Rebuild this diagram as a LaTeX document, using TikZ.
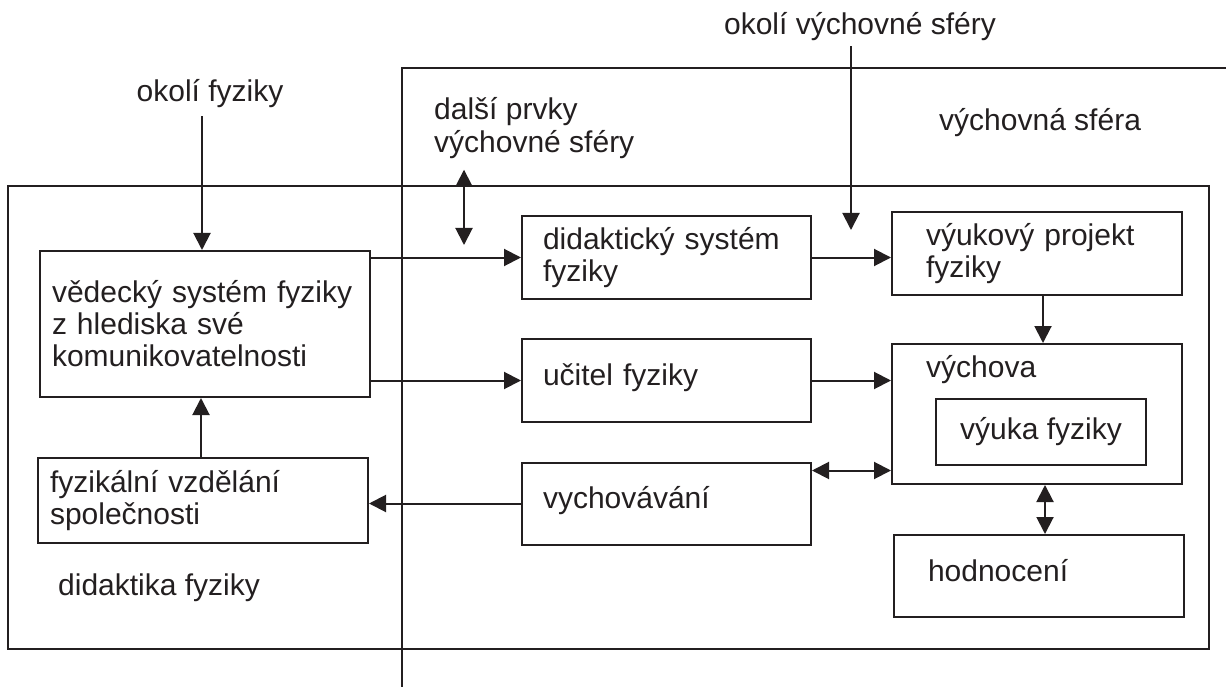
\documentclass[tikz,border=0pt]{standalone}
\usepackage{fontspec}
\setmainfont{Liberation Sans}
\usepackage{xcolor}
\usepackage{tikz}
\usetikzlibrary{arrows.meta, positioning}
\definecolor{ink}{HTML}{231F20}
\tikzstyle{box} = [rectangle, draw=ink, line width=2pt, align=left, text=ink, font=\fontsize{30}{32}\selectfont]
\tikzstyle{leftbox} = [box, text width=306pt, inner xsep=12pt]
\tikzstyle{midbox} = [box, text width=247pt, inner xsep=21pt, minimum height=83pt]
\tikzstyle{rightbox} = [box, text width=222pt, inner xsep=34pt, minimum height=83pt]
\tikzstyle{oneline} = [text height=22pt, text depth=12pt]
\tikzstyle{frame} = [rectangle, draw=ink, line width=2pt, inner sep=0pt]
\tikzstyle{caption} = [inner sep=0pt, text=ink, align=left, font=\fontsize{30}{33}\selectfont]
\tikzstyle{arrow} = [draw=ink, line width=2pt, -{Triangle[length=17pt, width=17pt]}]
\tikzstyle{dblarrow} = [draw=ink, line width=2pt, {Triangle[length=17pt, width=17pt]}-{Triangle[length=17pt, width=17pt]}]

\begin{document}
\begin{tikzpicture}[x=1pt, y=-1pt, node distance=123pt]
\useasboundingbox (0,0) rectangle (1226,687);
% the two spheres
\node (didaktika) [frame, minimum width=1201pt, minimum height=463pt] at (608.5,417.5) {};
\draw [draw=ink, line width=2pt] (402,687) |- (1226,68);
\node (didaktikatxt) [caption, anchor=base west] at (58,595) {didaktika fyziky};
\node (sferatxt) [caption, anchor=base west] at (939,131) {výchovná sféra};
\node (okolifyz) [caption, anchor=base] at (210,102) {okolí fyziky};
\node (okolivs) [caption, anchor=base] at (860,35) {okolí výchovné sféry};
\node (dalsi) [caption, anchor=north west] at (434,97) {další prvky\\výchovné sféry};

\node (vedecky) [leftbox, minimum height=146pt] at (205,324) {vědecký systém fyziky\\z hlediska své\\komunikovatelnosti};
\node (fyzikalni) [leftbox, minimum height=85pt, below of=vedecky, yshift=-53.5pt, xshift=-2pt] {fyzikální vzdělání\\společnosti};
\node (didakticky) [midbox] at (666.5,257.5) {didaktický systém\\fyziky};
\node (ucitel) [midbox, oneline, below of=didakticky] {učitel fyziky};
\node (vychovavani) [midbox, oneline, minimum height=82pt, below of=ucitel] {vychovávání};
\node (vyukovy) [rightbox, right of=didakticky, xshift=247.5pt, yshift=4pt] {výukový projekt\\fyziky};
\node (vychova) [rightbox, minimum height=140pt, below of=vyukovy, yshift=-37.5pt] {};
\node (vychovatxt) [caption, anchor=base west] at ([xshift=35pt, yshift=-34pt]vychova.north west) {výchova};
\node (vyuka) [box, align=center, minimum width=210pt, minimum height=66pt] at (1041,432) {výuka fyziky};
\node (hodnoceni) [rightbox, oneline, minimum height=82pt, below of=vychova, yshift=-39pt, xshift=2pt] {hodnocení};

\coordinate (vstup) at (851,230);
\coordinate (dalsidole) at (464,245);

\draw [arrow] ([xshift=-3pt, yshift=-8pt]okolifyz.south -| vedecky.north) -- ([xshift=-3pt]vedecky.north);
\draw [arrow] ([yshift=-5pt]okolivs.south -| vstup) -- (vstup);
\draw [dblarrow] ([yshift=-11pt]dalsi.south -| dalsidole) -- (dalsidole);
\draw [arrow] (vedecky.east |- didakticky.west) -- (didakticky.west);
\draw [arrow] (vedecky.east |- ucitel.west) -- (ucitel.west);
\draw [arrow] (didakticky.east) -- (didakticky.east -| vyukovy.west);
\draw [arrow] (ucitel.east) -- (ucitel.east -| vychova.west);
\draw [dblarrow] ([yshift=-9pt]vychovavani.north east) -- ([yshift=-9pt]vychovavani.north east -| vychova.west);
\draw [arrow] (vychovavani.west) -- (vychovavani.west -| fyzikalni.east);
\draw [arrow] ([xshift=-2pt]fyzikalni.north) -- ([xshift=-2pt]fyzikalni.north |- vedecky.south);
\draw [arrow] ([xshift=6pt]vyukovy.south) -- ([xshift=6pt]vyukovy.south |- vychova.north);
\draw [dblarrow] ([xshift=6pt]hodnoceni.north) -- ([xshift=6pt]hodnoceni.north |- vychova.south);
\end{tikzpicture}
\end{document}
